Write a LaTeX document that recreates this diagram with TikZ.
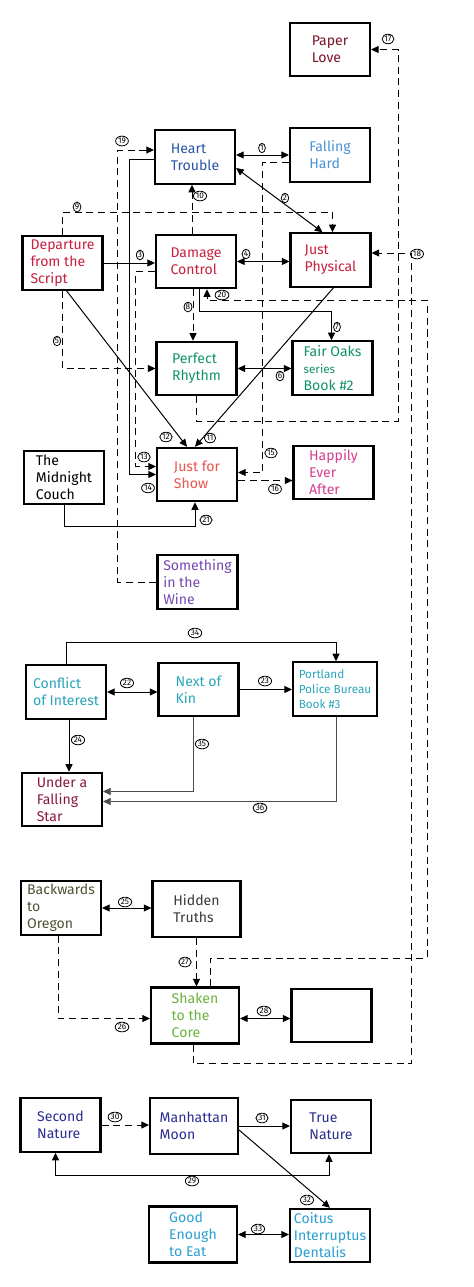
\documentclass[tikz,border=0pt]{standalone}
\usepackage{fontspec}
\setmainfont{Fira Sans}
\usetikzlibrary{arrows.meta,shapes.geometric,calc}

\definecolor{cPaper}{HTML}{7A1528}
\definecolor{cHeart}{HTML}{2B55A8}
\definecolor{cFall}{HTML}{4A92D6}
\definecolor{cRed}{HTML}{C8203F}
\definecolor{cGreen}{HTML}{13936B}
\definecolor{cShow}{HTML}{E8564E}
\definecolor{cHappy}{HTML}{D6408F}
\definecolor{cWine}{HTML}{7548B0}
\definecolor{cCyan}{HTML}{2AA6BA}
\definecolor{cStar}{HTML}{8B1A3C}
\definecolor{cOlive}{HTML}{4B5532}
\definecolor{cGray}{HTML}{3A3A3A}
\definecolor{cLime}{HTML}{6BB23F}
\definecolor{cNavy}{HTML}{2B2D8F}
\definecolor{cSky}{HTML}{2A9FD2}

\begin{document}
\begin{tikzpicture}[
  x=0.3mm, y=-0.3mm,
  book/.style={draw, line width=1.8pt, minimum width=24mm, minimum height=16mm,
               align=left, font=\fontsize{12}{14.5}\selectfont, inner sep=2pt},
  wbook/.style={book, minimum width=26.4mm, minimum height=16.8mm},
  arr/.style={-{Triangle[length=6.5pt,width=6pt]}, line width=0.85pt},
  dbl/.style={{Triangle[length=6.5pt,width=6pt]}-{Triangle[length=6.5pt,width=6pt]}, line width=0.85pt},
  darr/.style={arr, dash pattern=on 6pt off 4pt},
  thinarr/.style={arr, line width=0.5pt, draw=black!70},
  num/.style={draw, ellipse, line width=0.7pt, inner sep=0.5pt,
              font=\fontsize{7}{8}\selectfont},
]
\fill[white] (0,0) rectangle (474,1287);
\useasboundingbox (0,0) rectangle (474,1287);

% Fair Oaks cluster
\node[book, text=cPaper] (pl)  at (330,49.5)   {Paper\\Love};
\node[book, text=cHeart] (ht)  at (195,157)    {Heart\\Trouble};
\node[book, text=cFall]  (fh)  at (330,155)    {Falling\\Hard};
\node[book, text=cRed]   (dep) at (62.5,263)   {Departure\\from the\\Script};
\node[book, text=cRed]   (dc)  at (196,261.5)  {Damage\\Control};
\node[book, text=cRed]   (jp)  at (330.5,260)  {Just\\Physical};
\node[book, text=cGreen] (pr)  at (196.5,368.5) {Perfect\\Rhythm};
\node[book, text=cGreen] (fo)  at (332.5,368)  {Fair Oaks\\{\fontsize{10}{12}\selectfont series}\\Book \#2};
\node[book, text=cShow]  (jfs) at (197,474.5)  {Just for\\Show};
\node[book]              (mc)  at (64,477.5)   {The\\Midnight\\Couch};
\node[book, text=cHappy] (he)  at (333.5,472.5) {Happily\\Ever\\After};
\node[book, text=cWine]  (sw)  at (197.5,582)  {Something\\in the\\Wine};

% Portland Police Bureau
\node[book, text=cCyan] (coi) at (66,692)     {Conflict\\of Interest};
\node[book, text=cCyan] (nok) at (198.5,689.5) {Next of\\Kin};
\node[book, text=cCyan, minimum width=25.2mm, font=\fontsize{10}{13}\selectfont]
                        (ppb) at (335,689)    {Portland\\Police Bureau\\Book \#3};
\node[book, text=cStar] (ufs) at (62,799.5)   {Under a\\Falling\\Star};

% Oregon
\node[book, text=cOlive] (bto) at (61,908)      {Backwards\\to\\Oregon};
\node[wbook, text=cGray] (htr) at (196.5,909)   {Hidden\\Truths};
\node[wbook, text=cLime] (stc) at (195,1015.5)  {Shaken\\to the\\Core};
\node[book]              (emp) at (331.5,1015.5) {};

% Nature
\node[book, text=cNavy] (sn)  at (60.5,1125)   {Second\\Nature};
\node[wbook, text=cNavy] (mm) at (194,1126)    {Manhattan\\Moon};
\node[book, text=cNavy] (tn)  at (331,1126.5)  {True\\Nature};
\node[wbook, text=cSky] (ge)  at (193,1234.5)  {Good\\Enough\\to Eat};
\node[book, text=cSky]  (cid) at (330,1235.5)  {Coitus\\Interruptus\\Dentalis};

% top cluster connectors
\draw[dbl] (ht.east |- fh.west) -- (fh.west);
\draw[dbl] ($(ht.east)+(0,11)$) -- ($(jp.north)+(-8,0)$);
\draw[arr] (dep.east) -- (dep.east -| dc.west);
\draw[dbl] (dc.east) -- (dc.east -| jp.west);
\draw[darr] (dep.south) |- (pr.west);
\draw[dbl] (pr.east) -- (pr.east -| fo.west);
\draw[arr] ($(dc.south)+(3,0)$) |- ($(fo.north)+(-1,-29)$) -- ($(fo.north)+(-1,0)$);
\draw[darr] ($(dc.south)+(-3,0)$) -- ($(pr.north)+(-3.5,0)$);
\draw[darr] (dep.north) |- ($(jp.north)+(2,-20)$) -- ($(jp.north)+(2,0)$);
\draw[darr] ($(dc.north)+(-4,0)$) -- ($(ht.south)+(-3,0)$);
\draw[arr] ($(jp.south)+(3,0)$) -- ($(jfs.north)+(-2,0)$);
\draw[arr] ($(dep.south)+(4,0)$) -- ($(jfs.north)+(-10,0)$);
\draw[darr] ($(dc.west)+(0,10)$) -- ++(-19,0) |- ($(jfs.west)+(0,-8)$);
\draw[arr] ($(ht.west)+(0,2)$) -- ++(-24,0) |- (jfs.west);
\draw[darr] ($(fh.west)+(0,7)$) -- ++(-26,0) |- ($(jfs.east)+(0,-2)$);
\draw[darr] ($(jfs.east)+(0,6)$) -- ($(he.west)+(0,8)$);
\draw[darr] (pr.south) -- ++(0,25) -| ($(pl.east)+(27,0)$) -- (pl.east);
\draw[darr] ($(stc.south)+(-2,0)$) -- ++(0,19) -| ($(jp.east)+(40,-7)$) -- ($(jp.east)+(0,-7)$);
\draw[darr] (sw.west) -| ($(ht.west)+(-36,-7)$) -- ($(ht.west)+(0,-7)$);
\draw[darr] ($(stc.north)+(15,0)$) -- ++(0,-28) -| ($(dc.south)+(231,11)$) -| ($(dc.south)+(11,0)$);
\draw[arr] (mc.south) |- ($(jfs.south)+(-2,24)$) -- ($(jfs.south)+(-2,0)$);

% Portland connectors
\draw[arr] (coi.north) |- ($(ppb.north)+(1,-19)$) -- ($(ppb.north)+(1,0)$);
\draw[dbl] (coi.east) -- (coi.east -| nok.west);
\draw[arr] (nok.east) -- (nok.east -| ppb.west);
\draw[arr] ($(coi.south)+(3,0)$) -- ($(ufs.north)+(7,0)$);
\draw[thinarr] ($(nok.south)+(-5,0)$) |- ($(ufs.east)+(0,-8)$);
\draw[thinarr] ($(ppb.south)+(1,0)$) |- ($(ufs.east)+(0,2)$);

% Oregon connectors
\draw[dbl] (bto.east) -- (bto.east -| htr.west);
\draw[darr] ($(bto.south)+(-3,0)$) |- ($(stc.west)+(0,3)$);
\draw[darr] (htr.south) -- (htr.south |- stc.north);
\draw[dbl] ($(stc.east)+(0,3)$) -- ($(emp.west)+(0,3)$);

% Nature connectors
\draw[darr] (sn.east) -- (sn.east -| mm.west);
\draw[arr] (mm.east) -- (mm.east -| tn.west);
\draw[dbl] ($(sn.south)+(-5,0)$) |- ($(tn.south)+(-2,21)$) -- ($(tn.south)+(-2,0)$);
\draw[arr] ($(mm.east)+(0,4)$) -- (cid.north);
\draw[dbl] (ge.east) -- (ge.east -| cid.west);

% circled link numbers
\foreach \n/\x/\y in {1/262/148, 2/285/198, 3/140/255, 4/246/254, 5/57/341,
    6/280/376, 7/337/327, 8/188/307, 9/77/207, 10/200/196, 11/210/438,
    12/166/437, 13/144/457, 14/148/488, 15/271/453, 16/275/489, 17/388/39,
    18/417/254, 19/122/141, 20/222/295, 21/206/520, 34/195/633, 22/127/683,
    23/265/681, 24/78/740, 35/202/744, 36/260/808, 25/125/902, 26/122/1027,
    27/185/962, 28/264/1011, 30/115/1117, 31/262/1118, 29/192/1181,
    32/307/1200, 33/258/1229}
  \node[num] (n\n) at (\x,\y) {\n};

\end{tikzpicture}
\end{document}
